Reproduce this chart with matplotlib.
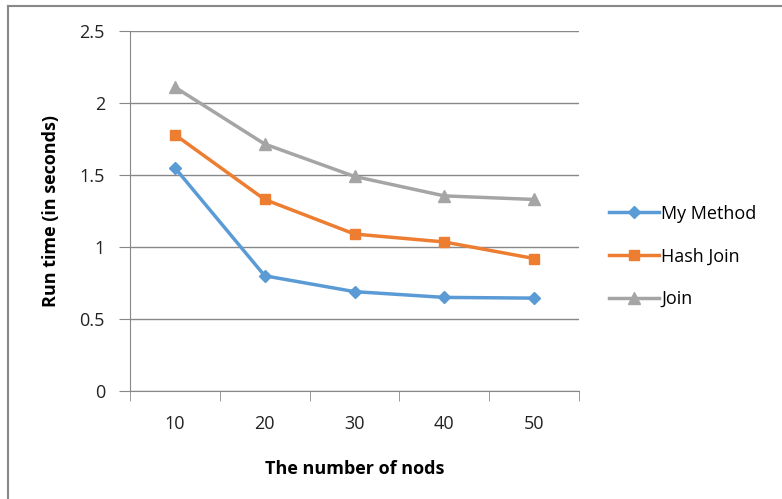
import numpy as np
import matplotlib
matplotlib.use('Agg')
from matplotlib import pyplot as plt
from matplotlib.lines import Line2D

# data
nodes = ['10', '20', '30', '40', '50']
my_method = [1.55, 0.80, 0.69, 0.65, 0.645]
hash_join = [1.78, 1.33, 1.09, 1.035, 0.92]
join = [2.11, 1.715, 1.49, 1.355, 1.33]
yticks = [0, 0.5, 1, 1.5, 2, 2.5]
ytick_labels = ['0', '0.5', '1', '1.5', '2', '2.5']

plt.rcParams['font.family'] = ['Open Sans', 'DejaVu Sans']

fig = plt.figure(figsize=(7.82, 4.99), dpi=100)
ax = fig.add_axes([130/782, 1 - 391/499, 449/782, 360/499])

x = np.arange(len(nodes))
ax.plot(x, my_method, color='#5b9bd5', lw=2.5, marker='D', ms=6,
        label='My Method')
ax.plot(x, hash_join, color='#ed7d31', lw=2.5, marker='s', ms=7,
        label='Hash Join')
ax.plot(x, join, color='#a5a5a5', lw=2.5, marker='^', ms=8,
        label='Join')

ax.set_xlim(-0.5, len(nodes) - 0.5)
ax.set_ylim(0, 2.5)
ax.set_yticks(yticks)
ax.set_yticklabels(ytick_labels)
ax.set_xticks(x)
ax.set_xticklabels(nodes)
# category boundaries get the tick marks
ax.set_xticks(np.arange(-0.5, len(nodes)), minor=True)
ax.tick_params(axis='x', which='major', length=0, pad=17, labelsize=13,
               colors='#222222')
ax.tick_params(axis='x', which='minor', length=7, color='#888888')
ax.tick_params(axis='y', length=8, color='#888888', pad=10,
               labelsize=13, colors='#222222')

ax.yaxis.grid(True, color='#888888', lw=1)
ax.set_axisbelow(True)
for s in ['top', 'right']:
    ax.spines[s].set_visible(False)
for s in ['left', 'bottom']:
    ax.spines[s].set_color('#888888')

ax.set_xlabel('The number of nods', fontsize=13, fontweight='bold',
              labelpad=20)
ax.set_ylabel('Run time (in seconds)', fontsize=13, fontweight='bold',
              labelpad=14)

ax.legend(loc='center left', bbox_to_anchor=(1.03, 0.374), frameon=False,
          fontsize=13, handlelength=2.8, labelspacing=1.37,
          handletextpad=0.1)

# outer frame, only top and left edges show
fig.add_artist(Line2D([8/782, 1], [1 - 6/499, 1 - 6/499],
                      color='#888888', lw=1.5))
fig.add_artist(Line2D([8/782, 8/782], [0, 1 - 6/499],
                      color='#888888', lw=1.5))

fig.savefig('out.png', dpi=100)
